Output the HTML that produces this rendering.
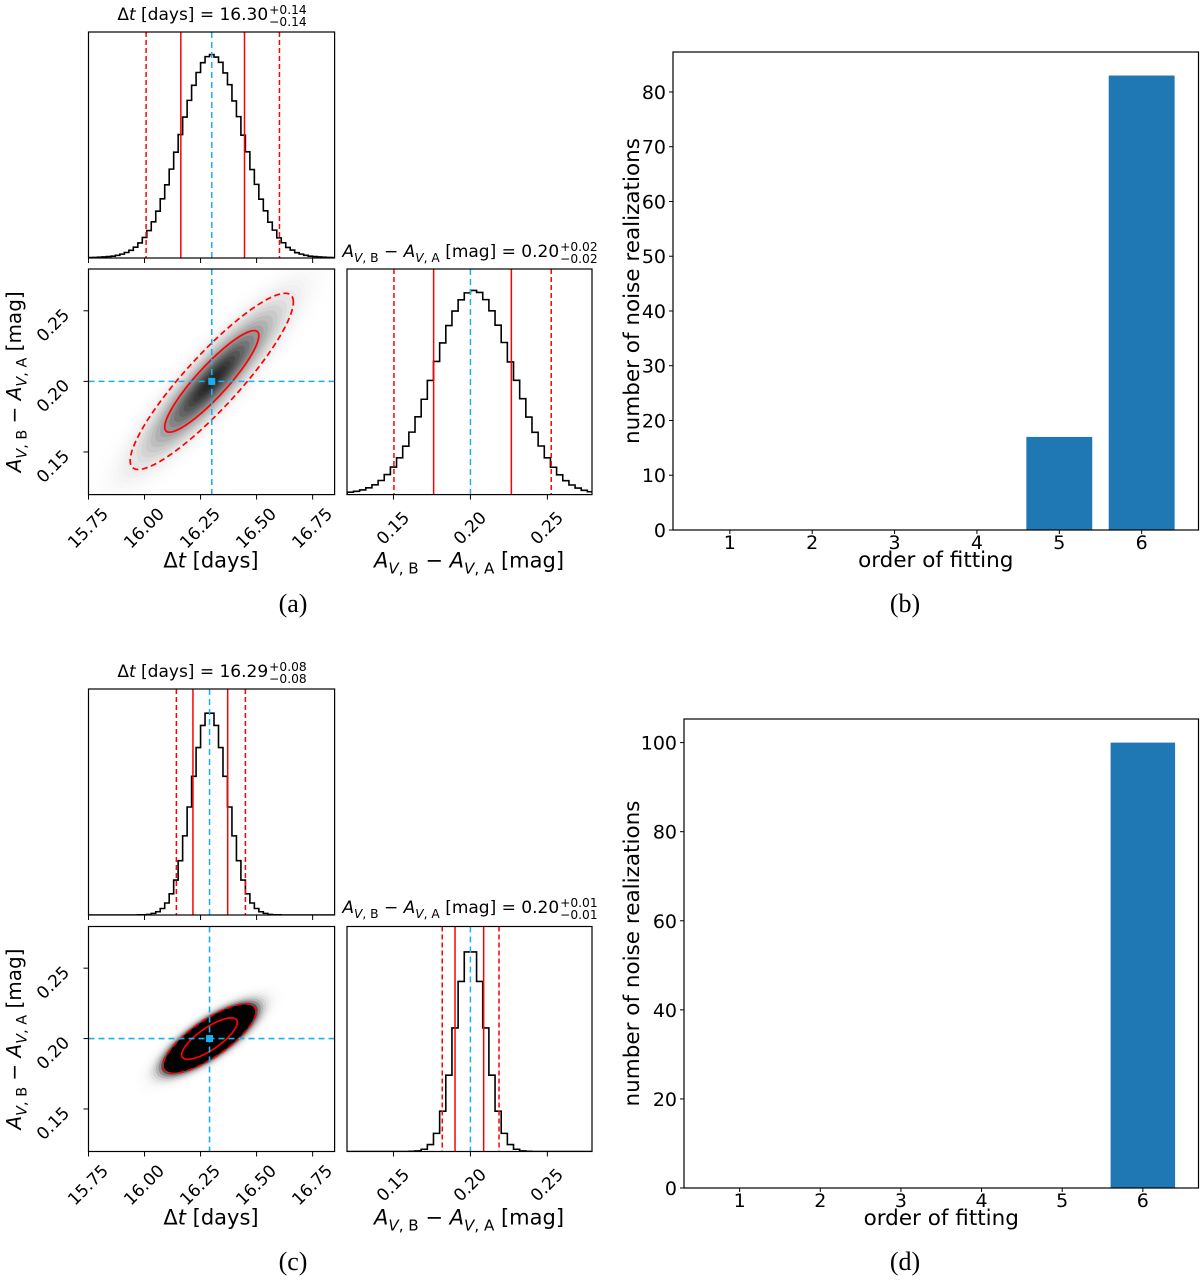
<!DOCTYPE html>
<html><head><meta charset="utf-8"><style>
html,body{margin:0;padding:0;background:#fff;}
svg{display:block;}
text{font-family:"DejaVu Sans","Liberation Sans",sans-serif;white-space:pre;fill:#000;}
.serif{font-family:"Liberation Serif",serif;}
</style></head><body>
<svg id="fig" width="1200" height="1285" viewBox="0 0 1200 1285" xmlns="http://www.w3.org/2000/svg"><defs id="defs"></defs></svg>
<script>
// ---------- data ----------
const histA_dt = [.002,.003,.004,.005,.007,.009,.013,.019,.027,.038,.053,.074,.101,.135,.178,.230,.291,.360,.437,.520,.607,.693,.775,.849,.912,.960,.990,1.0,.988,.962,.910,.852,.772,.695,.604,.522,.435,.362,.289,.232,.176,.137,.099,.075,.052,.039,.026,.019,.013,.009,.007,.005,.004,.003,.002];
const histA_dA = [.012,.016,.023,.033,.048,.069,.098,.135,.18,.237,.306,.381,.467,.559,.652,.743,.828,.899,.954,.988,1.0,.99,.955,.9,.83,.745,.65,.56,.47,.38,.305,.238,.18,.134,.097,.068,.047,.032,.021,.014];
const histC_dt = [0,0,0,0,0,0,0,0,0,0,0,.001,.001,.003,.008,.016,.032,.059,.104,.172,.267,.389,.531,.682,.823,.932,.992,.992,.932,.823,.682,.531,.389,.267,.172,.104,.059,.032,.016,.008,.003,.001,.001,0,0,0,0,0,0,0,0,0,0,0,0];
const histC_dA = [0,0,0,0,0,0,0,0,0,0,.001,.003,.011,.034,.089,.198,.375,.607,.835,.98,.98,.835,.607,.375,.198,.089,.034,.011,.003,.001,0,0,0,0,0,0,0,0,0,0];
const linesA_dt = [16.007,16.162,16.30,16.446,16.602];
const linesA_dA = [0.1503,0.1761,0.200,0.2266,0.2525];
const linesC_dt = [16.142,16.216,16.29,16.371,16.45];
const linesC_dA = [0.1817,0.190,0.200,0.2086,0.2186];
const statsA = [16.30,0.20,0.14,0.024,0.9];
const statsC = [16.29,0.20,0.08,0.0095,0.78];
const dtTicks = [15.75,16.00,16.25,16.50,16.75];
const dtTickLabels = ["15.75","16.00","16.25","16.50","16.75"];
const dATicks = [0.15,0.20,0.25];
const dATickLabels = ["0.15","0.20","0.25"];
const orders = [1,2,3,4,5,6];
const countsB = [0,0,0,0,17,83];
const countsD = [0,0,0,0,0,100];
const yTicksB = [0,10,20,30,40,50,60,70,80];
const yTicksD = [0,20,40,60,80,100];

// ---------- helpers ----------
const NS='http://www.w3.org/2000/svg';
const svg=document.getElementById('fig');
const defs=document.getElementById('defs');
const BLUE='#1ab0f0', RED='#ff0000';
function mk(tag,attrs,parent){const e=document.createElementNS(NS,tag);for(const k in attrs)e.setAttribute(k,attrs[k]);(parent||svg).appendChild(e);return e;}
function lin(d0,d1,p0,p1){return v=>p0+(v-d0)*(p1-p0)/(d1-d0);}
function span(t,str,a){const s=mk('tspan',a||{},t);s.textContent=str;return s;}
function aLabel(t,fs){
  const sf=fs*0.72, d=fs*0.28;
  span(t,'A',{'font-style':'italic'});
  span(t,'V',{'font-style':'italic','font-size':sf,dy:d});
  span(t,', B',{'font-size':sf});
  span(t,' − ',{dy:-d});
  span(t,'A',{'font-style':'italic'});
  span(t,'V',{'font-style':'italic','font-size':sf,dy:d});
  span(t,', A',{'font-size':sf});
  span(t,' [mag]',{dy:-d});
}
function dtLabel(t){span(t,'Δ');span(t,'t',{'font-style':'italic'});span(t,' [days]');}

function title(g,cx,y,fs,kind,val,plus,minus){
  const t=mk('text',{x:0,y:y,'font-size':fs},g);
  if(kind==='dt')dtLabel(t);else aLabel(t,fs);
  span(t,' = '+val);
  const L=t.getComputedTextLength();
  const sup=mk('text',{x:L+1,y:y-6,'font-size':fs*0.72},g);sup.textContent=plus;
  const sub=mk('text',{x:L+1,y:y+6,'font-size':fs*0.72},g);sub.textContent=minus;
  const w=Math.max(sup.getComputedTextLength(),sub.getComputedTextLength());
  g.setAttribute('transform','translate('+(cx-(L+1+w)/2)+',0)');
}

let clipId=0;
function clipFor(x0,y0,x1,y1){const id='cp'+(clipId++);const c=mk('clipPath',{id:id},defs);mk('rect',{x:x0,y:y0,width:x1-x0,height:y1-y0},c);return 'url(#'+id+')';}

function histogram(g,counts,start,width,X,Y){
  let d='M'+X(start)+','+Y(0);
  counts.forEach((c,i)=>{d+=' L'+X(start+i*width)+','+Y(c)+' L'+X(start+(i+1)*width)+','+Y(c);});
  d+=' L'+X(start+counts.length*width)+','+Y(0);
  const p=mk('path',{d:d,fill:'none',stroke:'#000','stroke-width':1.6},g);
  
  
}
function vlines(g,vals,X,y0,y1){
  vals.forEach((v,i)=>{
    const col=i===2?BLUE:RED;
    const dash=(i===0||i===4)?'5,3':(i===2?'6,4':'none');
    const l=mk('line',{x1:X(v),x2:X(v),y1:y0,y2:y1,stroke:col,'stroke-width':1.5,'stroke-dasharray':dash},g);
    
    
  });
}
function frame(g,b,name){
  const r=mk('rect',{x:b[0],y:b[1],width:b[2]-b[0],height:b[3]-b[1],fill:'none',stroke:'#000','stroke-width':1.2},g);
  
  
}
function xTicks(g,ticks,labels,X,yb,withLabels){
  ticks.forEach((v,i)=>{
    const l=mk('line',{x1:X(v),x2:X(v),y1:yb,y2:yb+5,stroke:'#000','stroke-width':1},g);
    
    
    if(withLabels){
      const t=mk('text',{x:X(v),y:yb+34,'font-size':17,'text-anchor':'middle','dominant-baseline':'central',transform:'rotate(-45 '+X(v)+' '+(yb+34)+')'},g);
      t.textContent=labels[i];
      
      
    }
  });
}
function yTicksCorner(g,ticks,labels,Y,xl){
  ticks.forEach((v,i)=>{
    const l=mk('line',{x1:xl-5,x2:xl,y1:Y(v),y2:Y(v),stroke:'#000','stroke-width':1},g);
    
    
    const cx=xl-35, cy=Y(v)+15;
    const t=mk('text',{x:cx,y:cy,'font-size':17,'text-anchor':'middle','dominant-baseline':'central',transform:'rotate(-45 '+cx+' '+cy+')'},g);
    t.textContent=labels[i];
    
    
  });
}
function ellipsePts(st,r,X,Y){
  const [mx,my,sx,sy,rho]=st;const pts=[];const q=Math.sqrt(1-rho*rho);
  for(let k=0;k<120;k++){const t=2*Math.PI*k/120;const dx=r*sx*Math.cos(t);const dy=r*sy*(rho*Math.cos(t)+q*Math.sin(t));pts.push(X(mx+dx).toFixed(2)+','+Y(my+dy).toFixed(2));}
  return pts.join(' ');
}

function drawCorner(name,top,sc,rh,H_dt,H_dA,L_dt,L_dA,st,dens,radii,t1,t2,t2y){
  const g=mk('g',{});
  
  
  const xr=[15.75,16.848], yr=[0.1198,0.2796], dr=[0.1198,0.279];
  const X=lin(xr[0],xr[1],top[0],top[2]);
  const gt=mk('g',{'clip-path':clipFor(top[0],top[1],top[2],top[3])},g);
  
  
  const Yt=lin(0,1/0.9,top[3],top[1]);
  histogram(gt,H_dt,15.75,0.02,X,Yt);
  vlines(gt,L_dt,X,top[1],top[3]);
  frame(g,top,'dt-histogram-frame');
  xTicks(g,dtTicks,dtTickLabels,X,top[3],false);
  const gtt=mk('g',{},g);
  
  
  title(gtt,212,top[1]-12,17,'dt',t1[0],t1[1],t1[2]);
  const Ys=lin(yr[0],yr[1],sc[3],sc[1]);
  const gs=mk('g',{'clip-path':clipFor(sc[0],sc[1],sc[2],sc[3])},g);
  
  
  let prev=0;
  for(let r=4.2;r>0.05;r-=0.15){
    const D=dens(r);const a=Math.max(0,1-(1-D)/(1-prev));prev=D;
    if(a<=0)continue;
    const p=mk('polygon',{points:ellipsePts(st,r,X,Ys),fill:'#000','fill-opacity':a.toFixed(4),stroke:'none'},gs);
    
    
  }
  radii.forEach((r,i)=>{
    const p=mk('polygon',{points:ellipsePts(st,r,X,Ys),fill:'none',stroke:RED,'stroke-width':1.7,'stroke-dasharray':i===1?'6,3.5':'none'},gs);
    
    
  });
  const bv=mk('line',{x1:X(st[0]),x2:X(st[0]),y1:sc[1],y2:sc[3],stroke:BLUE,'stroke-width':1.6,'stroke-dasharray':'6,4'},gs);
  
  
  const bh=mk('line',{x1:sc[0],x2:sc[2],y1:Ys(st[1]),y2:Ys(st[1]),stroke:BLUE,'stroke-width':1.6,'stroke-dasharray':'6,4'},gs);
  
  
  const mkr=mk('rect',{x:X(st[0])-3.5,y:Ys(st[1])-3.5,width:7,height:7,fill:BLUE},gs);
  
  
  frame(g,sc,'scatter-frame');
  xTicks(g,dtTicks,dtTickLabels,X,sc[3],true);
  yTicksCorner(g,dATicks,dATickLabels,Ys,sc[0]);
  const xl=mk('text',{x:211,y:sc[3]+73,'font-size':21,'text-anchor':'middle'},g);
  dtLabel(xl);
  
  
  const cy=(sc[1]+sc[3])/2;
  const yl=mk('text',{x:21,y:cy,'font-size':20,'text-anchor':'middle',transform:'rotate(-90 21 '+cy+')'},g);
  aLabel(yl,20);
  
  
  const Xr=lin(dr[0],dr[1],rh[0],rh[2]);
  const Yr=lin(0,1/0.905,rh[3],rh[1]);
  const gr=mk('g',{'clip-path':clipFor(rh[0],rh[1],rh[2],rh[3])},g);
  
  
  histogram(gr,H_dA,0.12,0.004,Xr,Yr);
  vlines(gr,L_dA,Xr,rh[1],rh[3]);
  frame(g,rh,'dA-histogram-frame');
  xTicks(g,dATicks,dATickLabels,Xr,rh[3],true);
  const xl2=mk('text',{x:469,y:rh[3]+73,'font-size':21,'text-anchor':'middle'},g);
  aLabel(xl2,21);
  
  
  const gt2=mk('g',{},g);
  
  
  title(gt2,470,t2y,17,'dA',t2[0],t2[1],t2[2]);
}

function drawBar(name,b,counts,yticks,ymax,xr){
  const g=mk('g',{});
  
  
  const X=lin(xr[0],xr[1],b[0],b[2]);
  const Y=lin(0,ymax,b[3],b[1]);
  orders.forEach((o,i)=>{
    if(counts[i]>0){
      const r=mk('rect',{x:X(o-0.4),y:Y(counts[i]),width:X(o+0.4)-X(o-0.4),height:Y(0)-Y(counts[i]),fill:'#1f77b4'},g);
      
      
    }
    const tk=mk('line',{x1:X(o),x2:X(o),y1:b[3],y2:b[3]+4,stroke:'#000'},g);
    
    
    const t=mk('text',{x:X(o),y:b[3]+19,'font-size':19,'text-anchor':'middle'},g);
    t.textContent=String(o);
    
    
  });
  yticks.forEach(v=>{
    const tk=mk('line',{x1:b[0]-4,x2:b[0],y1:Y(v),y2:Y(v),stroke:'#000'},g);
    
    
    const t=mk('text',{x:b[0]-7,y:Y(v)+7,'font-size':19,'text-anchor':'end'},g);
    t.textContent=String(v);
    
    
  });
  frame(g,b,'bar-axes-frame');
  const xl=mk('text',{x:(b[0]+b[2])/2,y:b[3]+37,'font-size':21.5,'text-anchor':'middle'},g);
  xl.textContent='order of fitting';
  
  
  const cy=(b[1]+b[3])/2;
  const yl=mk('text',{x:639,y:cy,'font-size':21.5,'text-anchor':'middle',transform:'rotate(-90 639 '+cy+')'},g);
  yl.textContent='number of noise realizations';
  
  
}

drawCorner('corner-plot-a',[88.5,32,334.6,258],[88.5,269,334.6,494.6],[347,269,592,494.6],
  histA_dt,histA_dA,linesA_dt,linesA_dA,statsA,r=>0.85*Math.exp(-r*r/3),[1.5,2.6],
  ['16.30','+0.14','−0.14'],['0.20','+0.02','−0.02'],257);
drawCorner('corner-plot-c',[88.5,689,334.6,915],[88.5,926.5,334.6,1151.5],[347,926.5,592,1151.5],
  histC_dt,histC_dA,linesC_dt,linesC_dA,statsC,r=>Math.min(0.995,25*Math.exp(-r*r/2)),[1.55,2.6],
  ['16.29','+0.08','−0.08'],['0.20','+0.01','−0.01'],913);
drawBar('bar-chart-b',[673,52,1198.5,530],countsB,yTicksB,87.3,[0.31,6.69]);
drawBar('bar-chart-d',[684,719,1198.5,1188],countsD,yTicksD,105.3,[0.31,6.69]);

[['(a)',293,612],['(b)',905,612],['(c)',293,1270],['(d)',905,1270]].forEach(p=>{
  const t=mk('text',{x:p[1],y:p[2],'font-size':26,'text-anchor':'middle',class:'serif'});
  t.textContent=p[0];
  
  
});
</script>
</body></html>
